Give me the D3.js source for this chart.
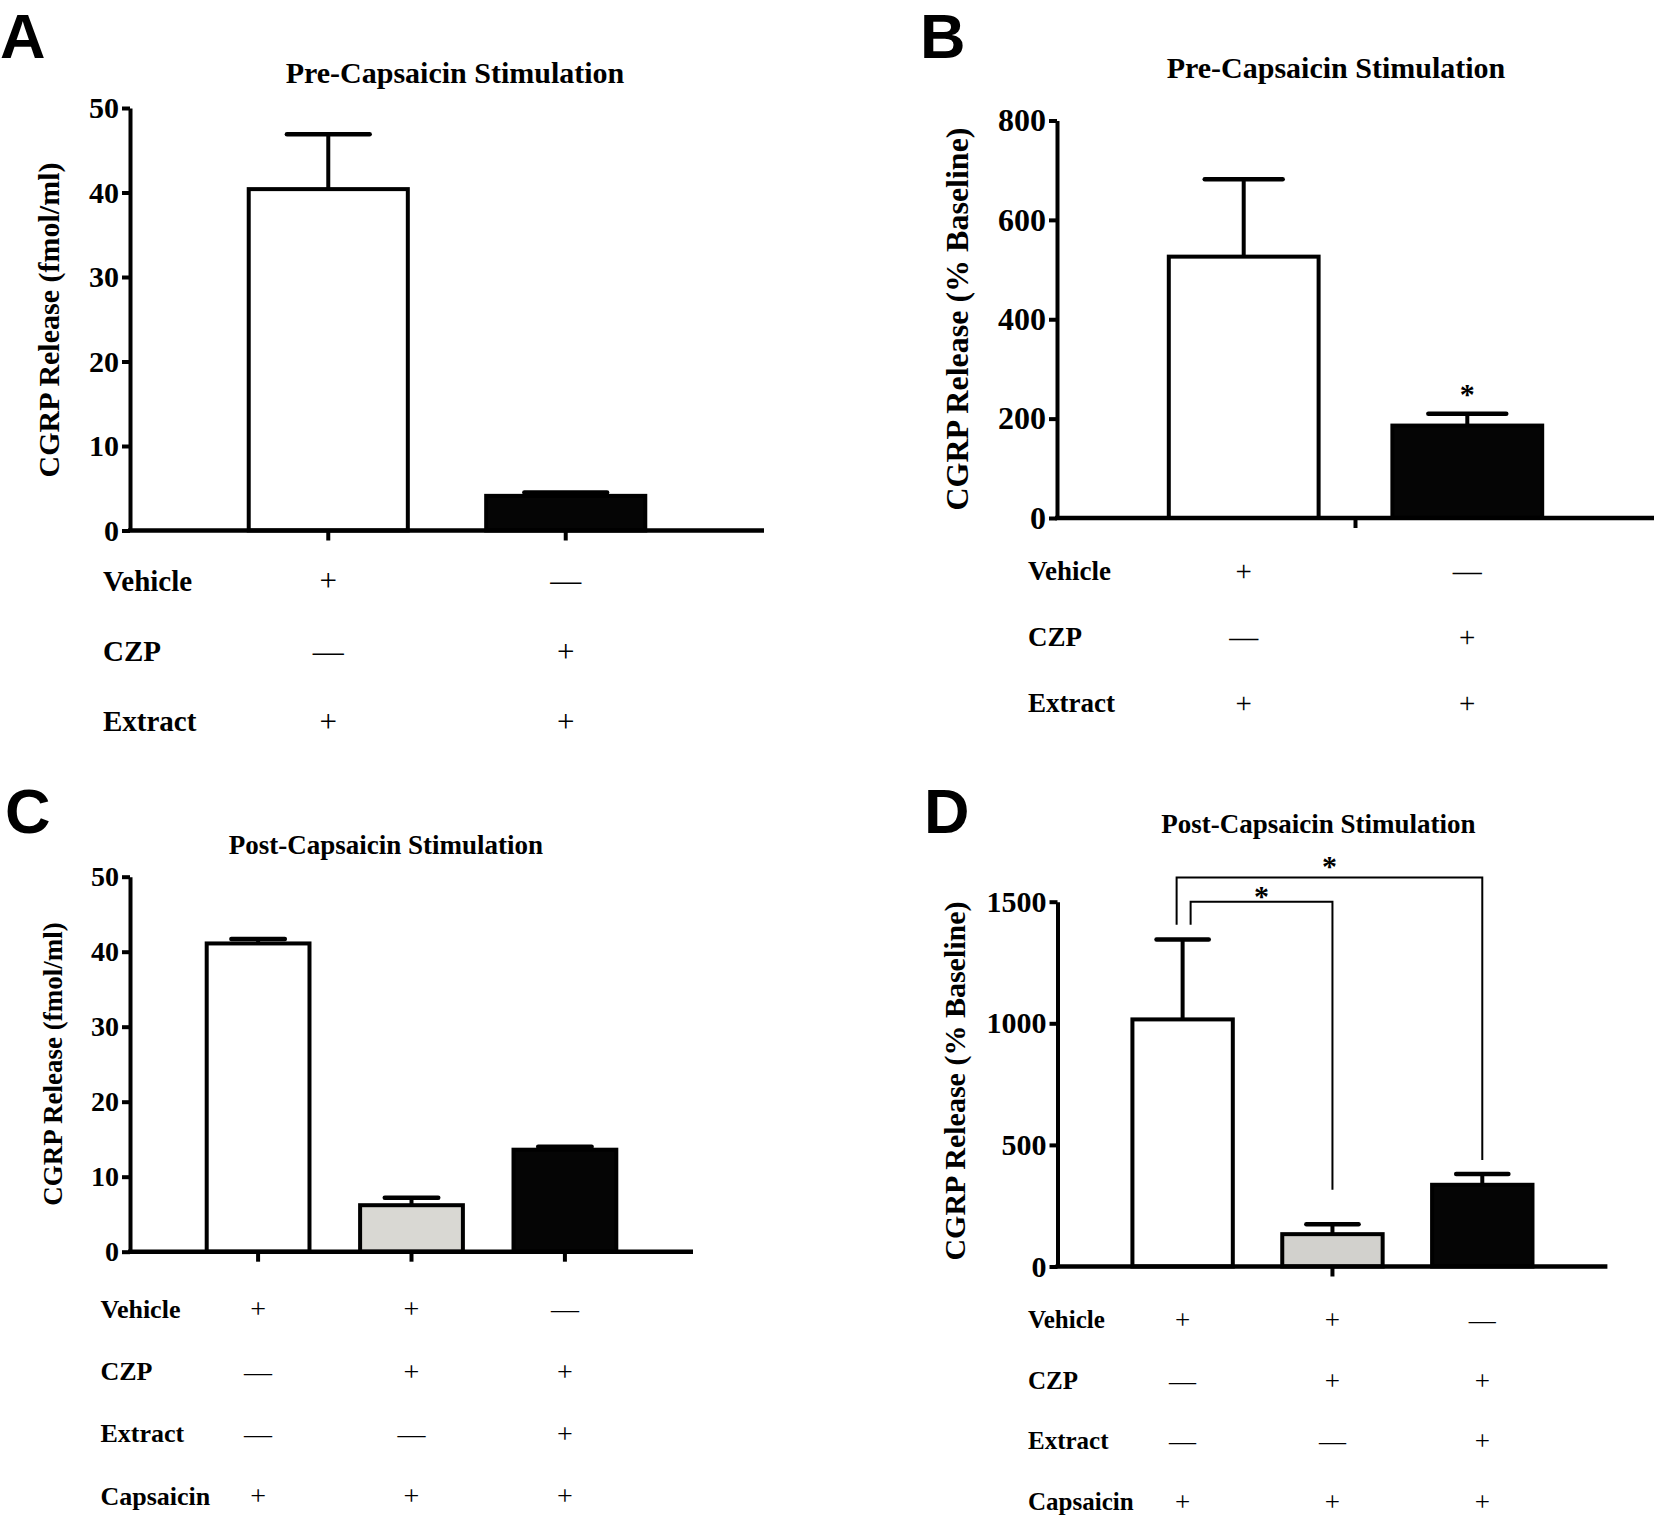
<!DOCTYPE html>
<html>
<head>
<meta charset="utf-8">
<script src="https://d3js.org/d3.v7.min.js"></script>
<style>
body { margin: 0; background: #fff; }
svg text { font-family: "Liberation Serif", "Times New Roman", serif; font-weight: bold; fill: #000; }
</style>
</head>
<body>
<div id="chart"></div>
<script>
var width = 1654, height = 1517;

// treatment groups
var preGroups = ["Vehicle + Extract", "CZP + Extract"];
var postGroups = ["Vehicle + Capsaicin", "Vehicle + CZP + Capsaicin", "CZP + Extract + Capsaicin"];

// mean and SEM
var preFmol = [40.4, 4.1], preFmolSem = [6.5, 0.4];
var prePct = [526, 186], prePctSem = [156, 24];
var postFmol = [41.1, 6.2, 13.6], postFmolSem = [0.6, 1.0, 0.4];
var postPct = [1016, 133, 336], postPctSem = [329, 41, 44];

// y tick values
var fmolTicks = [0, 10, 20, 30, 40, 50];
var prePctTicks = [0, 200, 400, 600, 800];
var postPctTicks = [0, 500, 1000, 1500];

// treatment table under the bars
var preRows = ["Vehicle", "CZP", "Extract"];
var preSigns = [["+", "—"], ["—", "+"], ["+", "+"]];
var postRows = ["Vehicle", "CZP", "Extract", "Capsaicin"];
var postSigns = [["+", "+", "—"], ["—", "+", "+"], ["—", "—", "+"], ["+", "+", "+"]];

// significance marks
var prePctStars = ["", "*"];
var postPctComparisons = [
    {from: 0, to: 1, level: 1500, leftEnd: 1405, rightEnd: 316, label: "*"},
    {from: 0, to: 2, level: 1600, leftEnd: 1405, rightEnd: 438, label: "*"}
];

var svg = d3.select("#chart").append("svg")
    .attr("width", width)
    .attr("height", height);

var panels = [
    {letter: "A", lx: 0, ly: 58, title: "Pre-Capsaicin Stimulation", tx: 455, ty: 83, ts: 30,
     x0: 130, x1: 764, yTop: 108, yBot: 530.5, groups: preGroups, values: preFmol, sem: preFmolSem,
     ticks: fmolTicks, ylabel: "CGRP Release (fmol/ml)", ylx: 48, yly: 320, yls: 30, tickFont: 30,
     fills: ["#ffffff", "#050505"], xTicks: "bars", rows: preRows, signs: preSigns,
     rowY: [580.5, 651, 721], rowX: 103, rowFont: 29},
    {letter: "B", lx: 920, ly: 58, title: "Pre-Capsaicin Stimulation", tx: 1336, ty: 78, ts: 30,
     x0: 1057, x1: 1654, yTop: 120.5, yBot: 518, groups: preGroups, values: prePct, sem: prePctSem,
     ticks: prePctTicks, ylabel: "CGRP Release (% Baseline)", ylx: 957, yly: 319, yls: 32, tickFont: 32,
     fills: ["#ffffff", "#050505"], xTicks: "middle", rows: preRows, signs: preSigns,
     rowY: [570.7, 636.6, 702.4], rowX: 1028, rowFont: 27, stars: prePctStars},
    {letter: "C", lx: 5, ly: 833, title: "Post-Capsaicin Stimulation", tx: 386, ty: 854, ts: 27,
     x0: 130, x1: 693, yTop: 876.7, yBot: 1251.7, groups: postGroups, values: postFmol, sem: postFmolSem,
     ticks: fmolTicks, ylabel: "CGRP Release (fmol/ml)", ylx: 53, yly: 1064, yls: 27, tickFont: 28,
     fills: ["#ffffff", "#d9d8d3", "#050505"], xTicks: "bars", rows: postRows, signs: postSigns,
     rowY: [1308.5, 1370.7, 1433.3, 1495.4], rowX: 100.5, rowFont: 26},
    {letter: "D", lx: 924, ly: 833, title: "Post-Capsaicin Stimulation", tx: 1318.5, ty: 833, ts: 27,
     x0: 1057.5, x1: 1607.4, yTop: 901.7, yBot: 1266.5, groups: postGroups, values: postPct, sem: postPctSem,
     ticks: postPctTicks, ylabel: "CGRP Release (% Baseline)", ylx: 954, yly: 1081, yls: 30, tickFont: 30,
     fills: ["#ffffff", "#d2d1cd", "#050505"], xTicks: "middle", rows: postRows, signs: postSigns,
     rowY: [1319.7, 1380.4, 1440.6, 1501.3], rowX: 1028, rowFont: 25, comparisons: postPctComparisons}
];

panels.forEach(drawPanel);

function drawPanel(p){
    var g = svg.append("g");

    //Set scales
    var xScale = d3.scaleBand().domain(p.groups).range([p.x0, p.x1]).paddingInner(0.33).paddingOuter(0.5),
        yScale = d3.scaleLinear().domain([0, d3.max(p.ticks)]).range([p.yBot, p.yTop]);
    var bw = xScale.bandwidth();
    var cx = function(i){ return xScale(p.groups[i]) + bw / 2; };

    //Panel letter and title
    g.append("text")
        .attr("x", p.lx)
        .attr("y", p.ly)
        .style("font-family", "'Liberation Sans', Arial, sans-serif")
        .style("font-size", "63px")
        .text(p.letter);

    g.append("text")
        .attr("x", p.tx)
        .attr("y", p.ty)
        .attr("text-anchor", "middle")
        .style("font-size", p.ts + "px")
        .text(p.title);

    //Bars
    g.selectAll(".bar")
        .data(p.values)
        .enter().append("rect")
        .attr("class", "bar")
        .attr("x", (d, i) => xScale(p.groups[i]))
        .attr("y", d => yScale(d))
        .attr("width", bw)
        .attr("height", d => yScale(0) - yScale(d))
        .attr("fill", (d, i) => p.fills[i])
        .attr("stroke", "#000")
        .attr("stroke-width", 4);

    //Error bars (upper only)
    p.values.forEach(function(v, i){
        var top = yScale(v + p.sem[i]);
        g.append("line")
            .attr("x1", cx(i)).attr("x2", cx(i))
            .attr("y1", yScale(v)).attr("y2", top)
            .attr("stroke", "#000").attr("stroke-width", 4);
        g.append("line")
            .attr("x1", cx(i) - bw * 0.26).attr("x2", cx(i) + bw * 0.26)
            .attr("y1", top).attr("y2", top)
            .attr("stroke", "#000").attr("stroke-width", 4.5)
            .attr("stroke-linecap", "round");
        if(p.stars && p.stars[i])
            g.append("text")
                .attr("x", cx(i))
                .attr("y", top - 10)
                .attr("text-anchor", "middle")
                .style("font-size", "30px")
                .text(p.stars[i]);
    });

    //Comparison brackets
    if(p.comparisons){
        p.comparisons.forEach(function(c, k){
            var xl = cx(c.from) + (k == 0 ? 8 : -6),
                xr = cx(c.to),
                yl = yScale(c.level);
            g.append("path")
                .attr("d", "M" + xl + "," + yScale(c.leftEnd) + "V" + yl + "H" + xr + "V" + yScale(c.rightEnd))
                .attr("fill", "none")
                .attr("stroke", "#000")
                .attr("stroke-width", 2);
            g.append("text")
                .attr("x", (xl + xr) / 2)
                .attr("y", yl + (k == 0 ? 4 : -1))
                .attr("text-anchor", "middle")
                .style("font-size", "30px")
                .text(c.label);
        });
    }

    //Y axis
    var yAxis = g.append("g")
        .attr("transform", "translate(" + p.x0 + ",0)")
        .call(d3.axisLeft(yScale).tickValues(p.ticks).tickFormat(d3.format("d"))
            .tickSize(8).tickSizeOuter(0).tickPadding(3));
    yAxis.attr("font-family", null).attr("font-size", null);
    yAxis.select(".domain").attr("stroke-width", 4);
    yAxis.selectAll(".tick line").attr("stroke-width", 4);
    yAxis.selectAll(".tick text").style("font-size", p.tickFont + "px");

    //X axis
    g.append("line")
        .attr("x1", p.x0 - 2).attr("x2", p.x1)
        .attr("y1", yScale(0)).attr("y2", yScale(0))
        .attr("stroke", "#000").attr("stroke-width", 4.5);

    var tickXs = p.xTicks == "bars" ? p.groups.map((d, i) => cx(i)) : [(p.x0 + p.x1) / 2];
    g.selectAll(".xtick")
        .data(tickXs)
        .enter().append("line")
        .attr("x1", d => d).attr("x2", d => d)
        .attr("y1", yScale(0)).attr("y2", yScale(0) + 10)
        .attr("stroke", "#000").attr("stroke-width", 4);

    //Y label
    g.append("text")
        .attr("transform", "translate(" + p.ylx + "," + p.yly + ") rotate(-90)")
        .attr("text-anchor", "middle")
        .attr("dy", "0.35em")
        .style("font-size", p.yls + "px")
        .text(p.ylabel);

    //Treatment table
    p.rows.forEach(function(r, j){
        g.append("text")
            .attr("x", p.rowX)
            .attr("y", p.rowY[j])
            .attr("dy", "0.35em")
            .style("font-size", p.rowFont + "px")
            .text(r);
        p.signs[j].forEach(function(s, i){
            g.append("text")
                .attr("x", cx(i))
                .attr("y", p.rowY[j])
                .attr("dy", "0.35em")
                .attr("text-anchor", "middle")
                .style("font-weight", "normal")
                .style("font-size", (p.rowFont + 2) + "px")
                .text(s);
        });
    });
}
</script>
</body>
</html>
